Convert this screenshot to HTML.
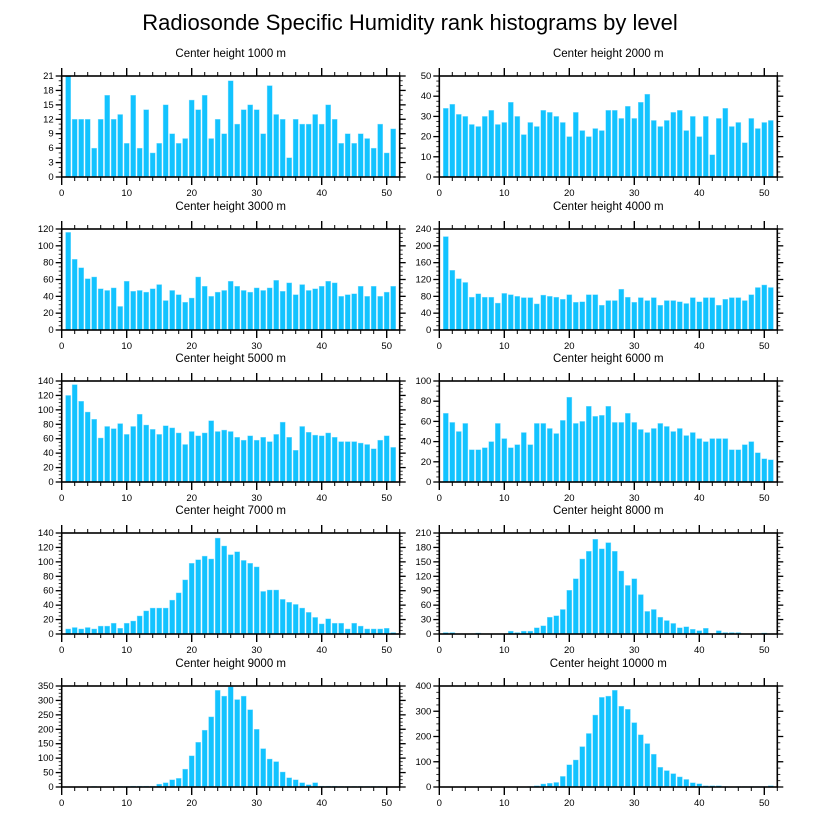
<!DOCTYPE html>
<html><head><meta charset="utf-8"><style>
html,body{margin:0;padding:0;background:#fff;}
svg{display:block;font-family:"Liberation Sans",sans-serif;}
</style></head><body>
<svg id="chart" width="816" height="824" viewBox="0 0 816 824">
<text x="410" y="30" text-anchor="middle" font-size="22">Radiosonde Specific Humidity rank histograms by level</text>
</svg>
<script>
const levels = ["1000","2000","3000","4000","5000","6000","7000","8000","9000","10000"];
const yMax = [21,50,120,240,140,100,140,210,350,400];
const yStep = [3,10,20,40,20,20,20,30,50,100];
const counts1000 = [21,12,12,12,6,12,17,12,13,7,17,6,14,5,7,15,9,7,8,16,14,17,8,12,9,20,11,14,15,14,9,19,13,12,4,12,11,11,13,11,15,12,7,9,7,9,8,6,11,5,10];
const counts2000 = [34,36,31,30,26,25,30,33,26,27,37,30,21,27,25,33,32,30,27,20,32,23,20,24,23,33,33,29,35,29,37,41,28,25,28,32,33,23,30,20,30,11,29,34,25,27,17,29,24,27,28];
const counts3000 = [116,84,74,61,63,49,47,50,28,58,46,47,45,49,54,35,47,42,33,38,63,52,40,45,47,58,52,47,45,50,47,50,59,46,56,42,54,47,49,52,58,56,40,42,43,52,40,52,40,45,52];
const counts4000 = [222,142,122,113,78,86,78,78,64,87,84,80,77,77,62,83,80,78,73,84,66,67,84,84,59,70,70,97,78,66,77,70,77,59,70,70,67,63,77,67,77,77,59,73,77,77,70,84,101,107,101];
const counts5000 = [120,135,112,97,87,61,77,74,81,66,77,94,79,73,66,78,75,68,52,70,64,68,85,70,72,70,62,58,64,58,62,56,66,83,62,44,77,69,65,64,68,62,56,56,56,54,52,46,58,64,48];
const counts6000 = [68,59,50,58,32,32,34,40,58,43,34,37,49,37,58,58,53,48,61,84,58,60,75,65,66,75,59,59,68,59,52,49,53,58,55,50,53,46,49,43,40,43,43,43,32,32,37,40,29,23,22];
const counts7000 = [7,9,7,9,7,11,11,15,8,15,18,25,32,36,36,36,47,57,75,98,103,108,104,133,122,110,114,102,98,93,59,61,61,48,44,41,36,30,23,14,21,15,15,7,15,11,7,7,7,8,2];
const counts8000 = [3,3,0,0,0,2,0,0,0,0,6,3,6,6,13,17,35,38,51,91,115,156,172,197,177,190,172,131,101,115,82,47,51,35,28,22,13,15,10,7,12,0,7,3,3,3,0,0,0,2,0];
const counts9000 = [1,1,1,1,2,1,1,1,2,2,3,3,3,3,10,15,25,30,62,108,155,197,243,335,315,347,303,315,268,200,133,97,88,52,32,25,15,8,15,3,3,3,2,2,2,2,2,2,2,1,0];
const counts10000 = [0,0,0,0,0,0,0,0,0,0,0,0,0,2,5,12,15,18,42,88,107,160,212,285,355,360,383,320,308,255,207,172,130,78,65,53,40,30,17,13,5,5,5,2,1,2,2,2,2,2,5];
const xTicks = [0,10,20,30,40,50];
const allCounts = [counts1000,counts2000,counts3000,counts4000,counts5000,counts6000,counts7000,counts8000,counts9000,counts10000];

const NS = "http://www.w3.org/2000/svg";
const svg = document.getElementById("chart");
const lefts = [61.7, 439.3], tops = [76,229,381,533,686];
const PW = 338, PH = 101, XMAX = 52;
function mk(tag, attrs, parent){const e=document.createElementNS(NS,tag);for(const k in attrs)e.setAttribute(k,attrs[k]);(parent||svg).appendChild(e);return e;}

allCounts.forEach((vals, p) => {
  const x0 = lefts[p%2], y0 = tops[Math.floor(p/2)];
  const xs = v => x0 + v/XMAX*PW;
  const ys = v => y0 + PH - v/yMax[p]*PH;
  const g = mk("g", {});
  
  
  const t = mk("text", {x: x0+PW/2, y: y0-19, "text-anchor":"middle", "font-size":"11.5"}, g);
  t.textContent = "Center height " + levels[p] + " m";
  
  
  vals.forEach((v,i) => {
    if (v <= 0) return;
    const cx = xs(i+1);
    const r = mk("rect", {x: cx-2.6, y: ys(v), width: 5.2, height: Math.max(0, ys(0)-ys(v)), fill:"#12c3ff", stroke:"#8fe0ff", "stroke-width":"0.4"}, g);
    
    
  });
  const f = mk("rect", {x:x0, y:y0, width:PW, height:PH, fill:"none", stroke:"#000", "stroke-width":"1.6"}, g);
  
  
  for (let v=0; v<=XMAX; v+=2) {
    const major = v%10===0, L = major?8:4, x = xs(v);
    mk("line",{x1:x,x2:x,y1:y0,y2:y0-L,stroke:"#000","stroke-width":major?1.4:1},g);
    mk("line",{x1:x,x2:x,y1:y0+PH,y2:y0+PH+L,stroke:"#000","stroke-width":major?1.4:1},g);
  }
  xTicks.forEach(v => {
    const tl = mk("text",{x:xs(v), y:y0+PH+19, "text-anchor":"middle","font-size":"9.5"},g);
    tl.textContent = v;
    
    
  });
  const minor = yStep[p]/ (yStep[p]%3===0 && yStep[p]<10 ? 3 : 4);
  for (let v=0; v<=yMax[p]+1e-9; v+=minor) {
    const y = ys(v);
    mk("line",{x1:x0,x2:x0-3,y1:y,y2:y,stroke:"#000","stroke-width":0.8},g);
    mk("line",{x1:x0+PW,x2:x0+PW+3,y1:y,y2:y,stroke:"#000","stroke-width":0.8},g);
  }
  for (let v=0; v<=yMax[p]; v+=yStep[p]) {
    const y = ys(v);
    mk("line",{x1:x0,x2:x0-6,y1:y,y2:y,stroke:"#000","stroke-width":1.3},g);
    mk("line",{x1:x0+PW,x2:x0+PW+6,y1:y,y2:y,stroke:"#000","stroke-width":1.3},g);
    const tl = mk("text",{x:x0-8, y:y+3, "text-anchor":"end","font-size":"9.5"},g);
    tl.textContent = v;
    
    
  }
});
</script>
</body></html>
